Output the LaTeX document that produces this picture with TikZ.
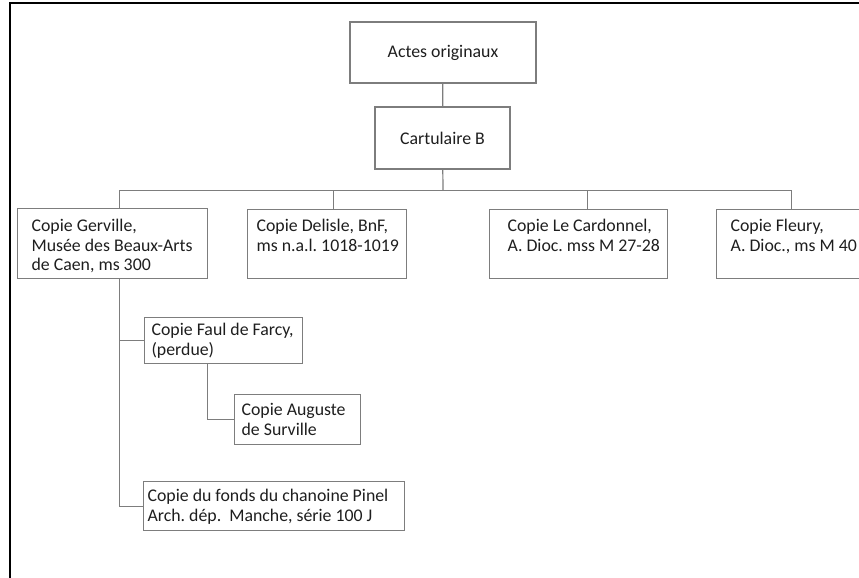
\documentclass[tikz,border=0pt]{standalone}
\usepackage{fontspec}
\setmainfont{Carlito}
\definecolor{traitgris}{RGB}{125,125,125}
\definecolor{encre}{RGB}{30,30,30}

\begin{document}
\frenchspacing
\begin{tikzpicture}[x=1pt, y=-1pt,
        lien/.style={draw=traitgris, line width=1.2pt},
        titre/.style={draw=traitgris, line width=1.2pt, text=encre, font=\fontsize{17.8}{19.5}\selectfont},
        copie/.style={draw=traitgris, line width=1.2pt, anchor=north west, align=left, inner sep=0pt,
            text=encre, font=\fontsize{17.8}{19.5}\selectfont},
        retrait/.style={execute at begin node={\leftskip=#1pt\spaceskip=0pt\xspaceskip=0pt}}]
    \useasboundingbox (0,0) rectangle (859,578);
    \clip (0,0) rectangle (859,578);
    \draw[line width=2pt] (10,578) -- (10,3) -- (859,3);

    \node[titre, minimum width=186, minimum height=61] (actes) at (443,52.5) {Actes originaux};
    \node[titre, minimum width=135, minimum height=62] (cartulaire) at (442.5,138) {Cartulaire B};

    \node[copie, retrait=14, text width=190, text height=23, text depth=47] (gerville) at (17,208)
        {Copie Gerville,\\ Musée des Beaux-Arts\\ de Caen, ms 300};
    \node[copie, retrait=9, text width=159, text height=22, text depth=47] (delisle) at (247,209)
        {Copie Delisle, BnF,\\ ms n.a.l. 1018-1019};
    \node[copie, retrait=18, text width=178, text height=22, text depth=47] (cardonnel) at (489,209)
        {Copie Le Cardonnel,\\ A. Dioc. mss M 27-28};
    \node[copie, retrait=14, text width=180, text height=22, text depth=47] (fleury) at (716,209)
        {Copie Fleury,\\ A. Dioc., ms M 40};
    \node[copie, retrait=7, text width=158, text height=18, text depth=28] (farcy) at (144,317)
        {Copie Faul de Farcy,\\ (perdue)};
    \node[copie, retrait=7, text width=126, text height=21, text depth=29] (surville) at (234,394)
        {Copie Auguste\\ de Surville};
    \node[copie, retrait=4, text width=261, text height=20, text depth=29] (pinel) at (143,481)
        {Copie du fonds du chanoine Pinel\\ Arch. dép.~ Manche, série 100 J};

    \coordinate (bus) at (443,190.5);
    \draw[lien] (actes) -- (cartulaire);
    \draw[lien] (cartulaire) -- (bus);
    \draw[lien] ([xshift=7]gerville.north) |- (bus) -| ([xshift=-15]fleury.north);
    \draw[lien] ([xshift=6.5]delisle.north) |- (bus);
    \draw[lien] ([xshift=9]cardonnel.north) |- (bus);
    \draw[lien] ([xshift=7]gerville.south) |- (farcy.west);
    \draw[lien] ([xshift=7]gerville.south) |- (pinel.west);
    \draw[lien] ([xshift=-16]farcy.south) |- (surville.west);
\end{tikzpicture}
\end{document}
